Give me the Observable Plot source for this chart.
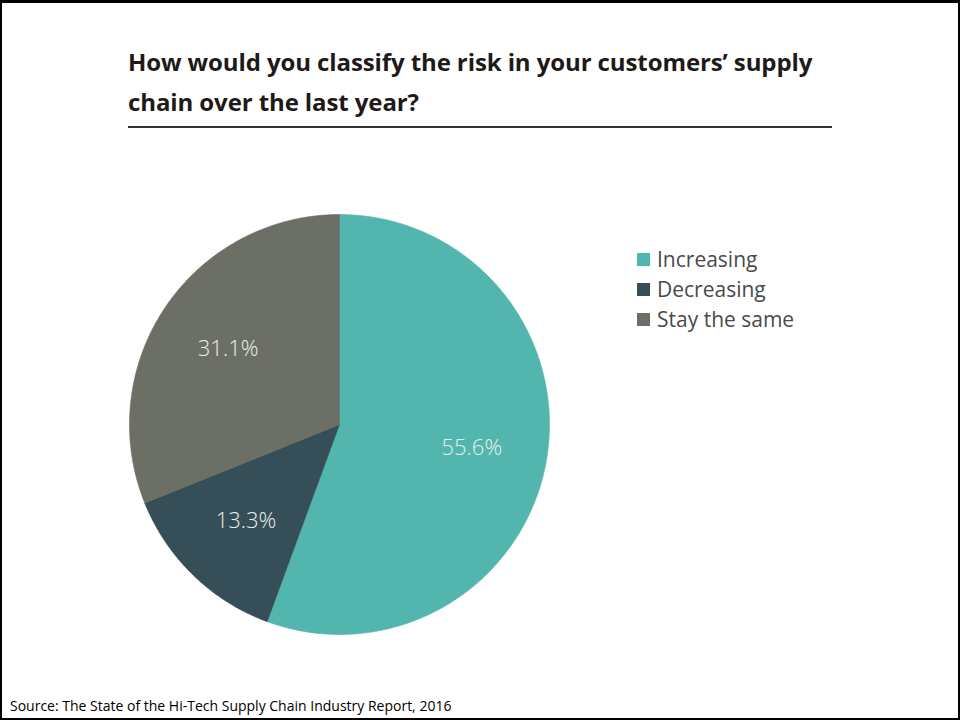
<!DOCTYPE html>
<html>
<head>
<meta charset="utf-8">
<script src="https://cdn.jsdelivr.net/npm/d3@7"></script>
<script src="https://cdn.jsdelivr.net/npm/@observablehq/plot@0.6"></script>
<style>
  html, body { margin: 0; padding: 0; background: #fff; }
  #frame { position: relative; width: 960px; height: 720px; box-sizing: border-box;
           border: 2px solid #000; border-top-width: 3px; background: #fff; overflow: hidden; }
  #title { position: absolute; left: 126px; top: 39px; width: 740px;
           font-family: "Open Sans", sans-serif; font-weight: 700; font-size: 24px;
           line-height: 40px; color: #1e1a17; letter-spacing: -0.1px; white-space: nowrap; }
  #rule { position: absolute; left: 126px; top: 123px; width: 704px; height: 2px; background: #3a2f2a; }
  #pie { position: absolute; left: 116.5px; top: 201px; }
  #legend { position: absolute; left: 635px; top: 241px; font-family: "Open Sans", sans-serif;
            font-size: 21px; color: #4a4a4a; }
  #legend .row { height: 30px; display: flex; align-items: center; }
  #legend .sw { width: 13px; height: 13px; margin-right: 7px; }
  #source { position: absolute; left: 8px; top: 693px; font-family: "Open Sans", sans-serif;
            font-size: 14px; color: #000; }
</style>
</head>
<body>
<div id="frame">
  <div id="title"></div>
  <div id="rule"></div>
  <div id="pie"></div>
  <div id="legend"></div>
  <div id="source"></div>
</div>
<script>
const titleLines = ["How would you classify the risk in your customers’ supply", "chain over the last year?"];
const sourceText = "Source: The State of the Hi-Tech Supply Chain Industry Report, 2016";
const categories = ["Increasing", "Decreasing", "Stay the same"];
const shares = [55.6, 13.3, 31.1];
const labels = ["55.6%", "13.3%", "31.1%"];
const colors = ["#53b6ae", "#364e58", "#6c6f66"];

document.getElementById("title").innerHTML = titleLines.join("<br>");
document.getElementById("source").textContent = sourceText;

// Build slice polygons (clockwise from 12 o'clock) from the shares
const arcs = d3.pie().sort(null).value(d => d)(shares);
const outline = [];
arcs.forEach((a, i) => {
  const n = Math.max(2, Math.ceil((a.endAngle - a.startAngle) / 0.01));
  outline.push({cat: categories[i], x: 0, y: 0});
  for (let k = 0; k <= n; k++) {
    const t = a.startAngle + (a.endAngle - a.startAngle) * k / n;
    outline.push({cat: categories[i], x: Math.sin(t), y: Math.cos(t)});
  }
  outline.push({cat: categories[i], x: 0, y: 0});
});
const labelR = 0.64;
const labelData = arcs.map((a, i) => {
  const m = (a.startAngle + a.endAngle) / 2;
  return {cat: categories[i], label: labels[i], x: labelR * Math.sin(m), y: labelR * Math.cos(m)};
});

const chart = Plot.plot({
  width: 440, height: 440,
  margin: 10,
  x: {domain: [-1, 1], axis: null},
  y: {domain: [-1, 1], axis: null},
  color: {domain: categories, range: colors},
  style: {background: "transparent"},
  marks: [
    Plot.line(outline, {x: "x", y: "y", z: "cat", fill: "cat", stroke: "cat", strokeWidth: 0.6, curve: "linear"}),
    Plot.text(labelData, {x: "x", y: "y", text: "label", fill: "#e8efea",
      fontSize: 22, fontWeight: 300, fontFamily: "Open Sans, sans-serif"})
  ]
});
document.getElementById("pie").appendChild(chart);

const legend = document.getElementById("legend");
categories.forEach((c, i) => {
  const row = document.createElement("div");
  row.className = "row";
  const sw = document.createElement("div");
  sw.className = "sw";
  sw.style.background = colors[i];
  const tx = document.createElement("span");
  tx.textContent = c;
  row.appendChild(sw); row.appendChild(tx);
  legend.appendChild(row);
});
</script>
</body>
</html>
